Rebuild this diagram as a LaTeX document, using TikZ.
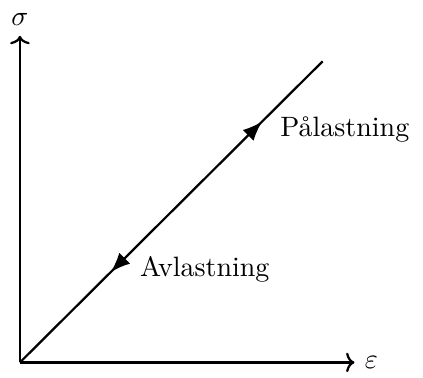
\documentclass[tikz,border=0pt]{standalone}
\usetikzlibrary{arrows.meta,decorations.markings}
\begin{document}
\begin{tikzpicture}[line width=0.8pt]
  \useasboundingbox (-0.25,-0.19) rectangle (5.06,4.55);
  \coordinate (O) at (0,0);
  \coordinate (E) at (4.2,0);
  \coordinate (S) at (0,4.1);
  \coordinate (L) at (3.8,3.78);
  \draw[-{To[length=3pt,width=7pt]}] (O) -- (E) node[right] (eps) {$\varepsilon$};
  \draw[-{To[length=3pt,width=7pt]}] (O) -- (S) node[above] (sig) {$\sigma$};
  \draw[postaction={decorate},decoration={markings,
      mark=at position 0.8 with {\arrow{Latex[length=7pt,width=5.5pt]}},
      mark=at position 0.3 with {\arrowreversed{Latex[length=7pt,width=5.5pt]}}}]
    (O) -- (L);
  \node[right, inner sep=1pt] (pa) at (3.22,2.92) {Pålastning};
  \node[right, inner sep=1pt] (av) at (1.46,1.17) {Avlastning};
\end{tikzpicture}
\end{document}
